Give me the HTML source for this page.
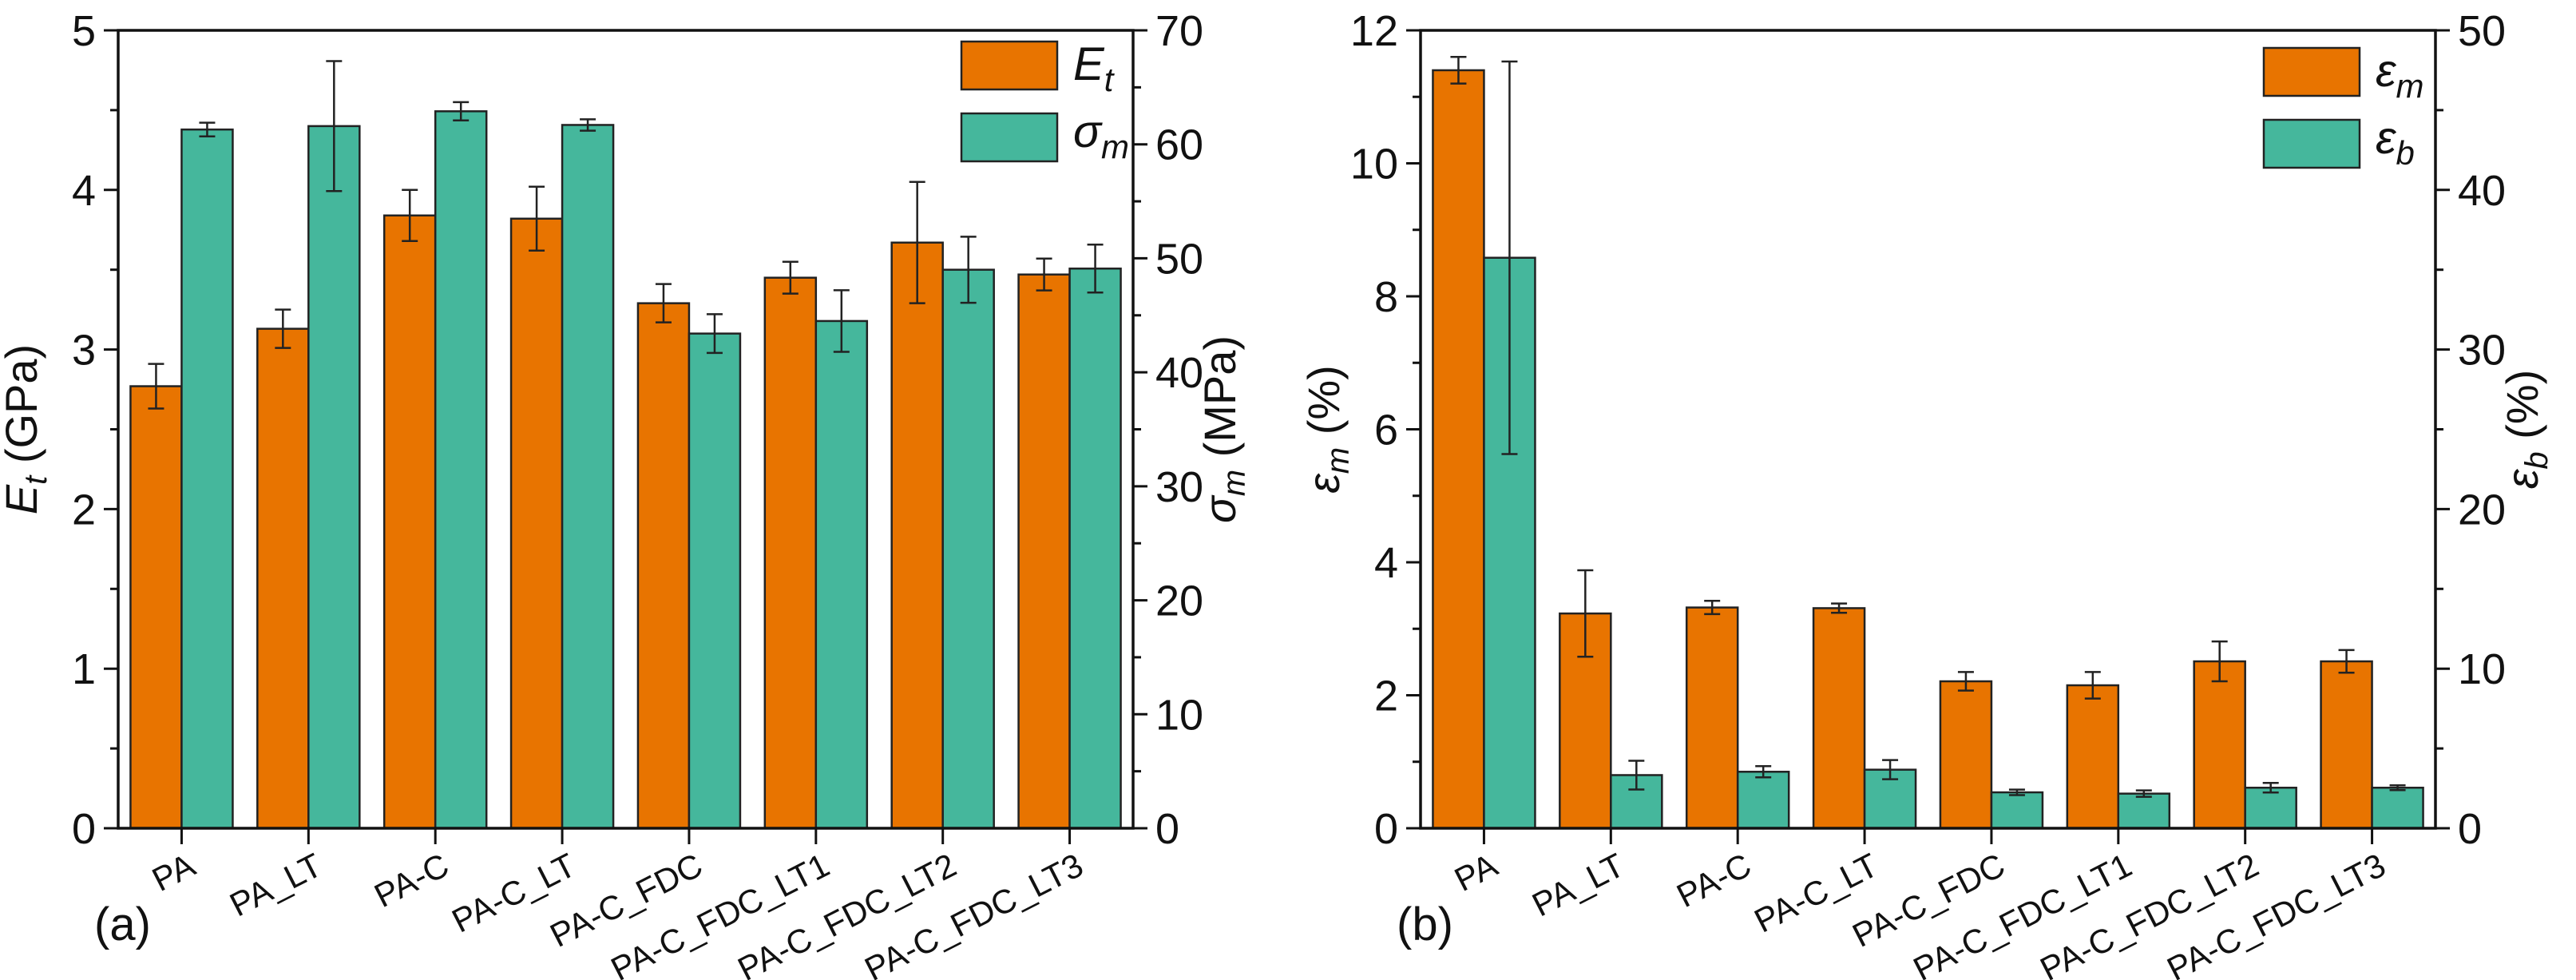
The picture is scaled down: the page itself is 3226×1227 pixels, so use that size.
<!DOCTYPE html>
<html><head><meta charset="utf-8"><style>
html,body{margin:0;padding:0;background:#fff;}
svg{display:block;font-family:"Liberation Sans",sans-serif;}
</style></head><body>
<svg id="chart" width="3226" height="1227" viewBox="0 0 3226 1227" xmlns="http://www.w3.org/2000/svg"></svg>
<script>
const categories = ["PA","PA_LT","PA-C","PA-C_LT","PA-C_FDC","PA-C_FDC_LT1","PA-C_FDC_LT2","PA-C_FDC_LT3"];
const etValues = [2.77,3.13,3.84,3.82,3.29,3.45,3.67,3.47];
const etErrors = [0.14,0.12,0.16,0.20,0.12,0.10,0.38,0.10];
const sigmaValues = [61.3,61.6,62.9,61.7,43.4,44.5,49.0,49.1];
const sigmaErrors = [0.6,5.7,0.8,0.5,1.7,2.7,2.9,2.1];
const emValues = [11.4,3.23,3.32,3.31,2.21,2.15,2.51,2.51];
const emErrors = [0.2,0.65,0.1,0.07,0.14,0.2,0.3,0.17];
const ebValues = [35.75,3.33,3.54,3.67,2.25,2.17,2.54,2.54];
const ebErrors = [12.3,0.9,0.35,0.6,0.17,0.2,0.3,0.15];
const leftTicksA = ["0","1","2","3","4","5"];
const rightTicksA = ["0","10","20","30","40","50","60","70"];
const leftTicksB = ["0","2","4","6","8","10","12"];
const rightTicksB = ["0","10","20","30","40","50"];

const NS = "http://www.w3.org/2000/svg";
const svg = document.getElementById("chart");
const ORANGE = "#e87400", TEAL = "#45b79c";
function mk(tag, attrs, parent){
  const e = document.createElementNS(NS, tag);
  for (const k in attrs) e.setAttribute(k, attrs[k]);
  (parent||svg).appendChild(e);
  return e;
}

function panel(ox, id, lMax, lStep, lMinor, lTicks, rMax, rStep, rMinor, rTicks, s1, e1, s2, e2, opts){
  const L = ox, R = ox + 1271, T = 38, B = 1037;
  const g = mk("g", {});
  
  
  const n = categories.length;
  const xC = i => L + (R - L) * (i + 0.5) / n;
  const yL = v => B - (v / lMax) * (B - T);
  const yR = v => B - (v / rMax) * (B - T);
  const bw = 64;
  for (let i = 0; i < n; i++){
    const c = xC(i);
    const b1 = mk("rect", {x:c-bw, y:yL(s1[i]), width:bw, height:B-yL(s1[i]), fill:ORANGE, stroke:"#222", "stroke-width":2.5}, g);
    
    
    const b2 = mk("rect", {x:c, y:yR(s2[i]), width:bw, height:B-yR(s2[i]), fill:TEAL, stroke:"#222", "stroke-width":2.5}, g);
    
    
    const errs = [[c-bw/2, yL(s1[i]+e1[i]), yL(s1[i]-e1[i])], [c+bw/2, yR(s2[i]+e2[i]), yR(s2[i]-e2[i])]];
    errs.forEach((er, k) => {
      const eg = mk("g", {stroke:"#222", "stroke-width":2.5}, g);
      
      
      mk("line", {x1:er[0], x2:er[0], y1:er[1], y2:er[2]}, eg);
      mk("line", {x1:er[0]-10, x2:er[0]+10, y1:er[1], y2:er[1]}, eg);
      mk("line", {x1:er[0]-10, x2:er[0]+10, y1:er[2], y2:er[2]}, eg);
    });
    mk("line", {x1:c, x2:c, y1:B, y2:B+20, stroke:"#111", "stroke-width":3}, g);
    const t = mk("text", {x:0, y:0, "font-size":42, "text-anchor":"end", fill:"#111",
      transform:"translate(" + (c+20) + "," + (B+56) + ") rotate(-27)"}, g);
    t.textContent = categories[i];
    
    
  }
  const fr = mk("rect", {x:L, y:T, width:R-L, height:B-T, fill:"none", stroke:"#111", "stroke-width":3.5}, g);
  
  
  for (let v = 0; v <= lMax + 1e-9; v += lMinor){
    const major = Math.abs(v/lStep - Math.round(v/lStep)) < 1e-6;
    mk("line", {x1:L-(major?18:10), x2:L, y1:yL(v), y2:yL(v), stroke:"#111", "stroke-width":3}, g);
  }
  lTicks.forEach((lab, k) => {
    const t = mk("text", {x:L-28, y:yL(k*lStep)+19, "font-size":54, "text-anchor":"end", fill:"#111"}, g);
    t.textContent = lab;
    
    
  });
  for (let v = 0; v <= rMax + 1e-9; v += rMinor){
    const major = Math.abs(v/rStep - Math.round(v/rStep)) < 1e-6;
    mk("line", {x1:R, x2:R+(major?18:10), y1:yR(v), y2:yR(v), stroke:"#111", "stroke-width":3}, g);
  }
  rTicks.forEach((lab, k) => {
    const t = mk("text", {x:R+28, y:yR(k*rStep)+19, "font-size":54, "text-anchor":"start", fill:"#111"}, g);
    t.textContent = lab;
    
    
  });
  const yl = mk("text", {transform:"translate(" + (L-102) + "," + ((T+B)/2) + ") rotate(-90)", "font-size":56, "text-anchor":"middle", fill:"#111"}, g);
  yl.innerHTML = opts.leftTitle;
  
  
  const yr = mk("text", {transform:"translate(" + (R+128) + "," + ((T+B)/2) + ") rotate(-90)", "font-size":56, "text-anchor":"middle", fill:"#111"}, g);
  yr.innerHTML = opts.rightTitle;
  
  
  const lg = mk("g", {}, g);
  
  
  const lx = R - 215, ly = opts.legendY;
  const le1 = mk("rect", {x:lx, y:ly, width:120, height:60, fill:ORANGE, stroke:"#222", "stroke-width":2.5}, lg);
  
  
  const le2 = mk("rect", {x:lx, y:ly+90, width:120, height:60, fill:TEAL, stroke:"#222", "stroke-width":2.5}, lg);
  
  
  const lt1 = mk("text", {x:lx+140, y:ly+48, "font-size":58, fill:"#111"}, lg);
  lt1.innerHTML = opts.leg1;
  
  
  const lt2 = mk("text", {x:lx+140, y:ly+132, "font-size":58, fill:"#111"}, lg);
  lt2.innerHTML = opts.leg2;
  
  
  const pl = mk("text", {x:L-30, y:1177, "font-size":58, fill:"#111"}, g);
  pl.textContent = opts.letter;
  
  
}

panel(148, "a", 5, 1, 0.5, leftTicksA, 70, 10, 5, rightTicksA, etValues, etErrors, sigmaValues, sigmaErrors, {
  leftTitle:'<tspan font-style="italic">E</tspan><tspan font-style="italic" font-size="40" dy="12">t</tspan><tspan dy="-12"> (GPa)</tspan>',
  rightTitle:'<tspan font-style="italic">σ</tspan><tspan font-style="italic" font-size="40" dy="12">m</tspan><tspan dy="-12"> (MPa)</tspan>',
  leg1:'<tspan font-style="italic">E</tspan><tspan font-style="italic" font-size="42" dy="14">t</tspan>',
  leg2:'<tspan font-style="italic">σ</tspan><tspan font-style="italic" font-size="42" dy="14">m</tspan>',
  legendY:52, letter:"(a)"});
panel(1779, "b", 12, 2, 1, leftTicksB, 50, 10, 5, rightTicksB, emValues, emErrors, ebValues, ebErrors, {
  leftTitle:'<tspan font-style="italic">ε</tspan><tspan font-style="italic" font-size="40" dy="12">m</tspan><tspan dy="-12"> (%)</tspan>',
  rightTitle:'<tspan font-style="italic">ε</tspan><tspan font-style="italic" font-size="40" dy="12">b</tspan><tspan dy="-12"> (%)</tspan>',
  leg1:'<tspan font-style="italic">ε</tspan><tspan font-style="italic" font-size="42" dy="14">m</tspan>',
  leg2:'<tspan font-style="italic">ε</tspan><tspan font-style="italic" font-size="42" dy="14">b</tspan>',
  legendY:60, letter:"(b)"});
</script>
</body></html>
